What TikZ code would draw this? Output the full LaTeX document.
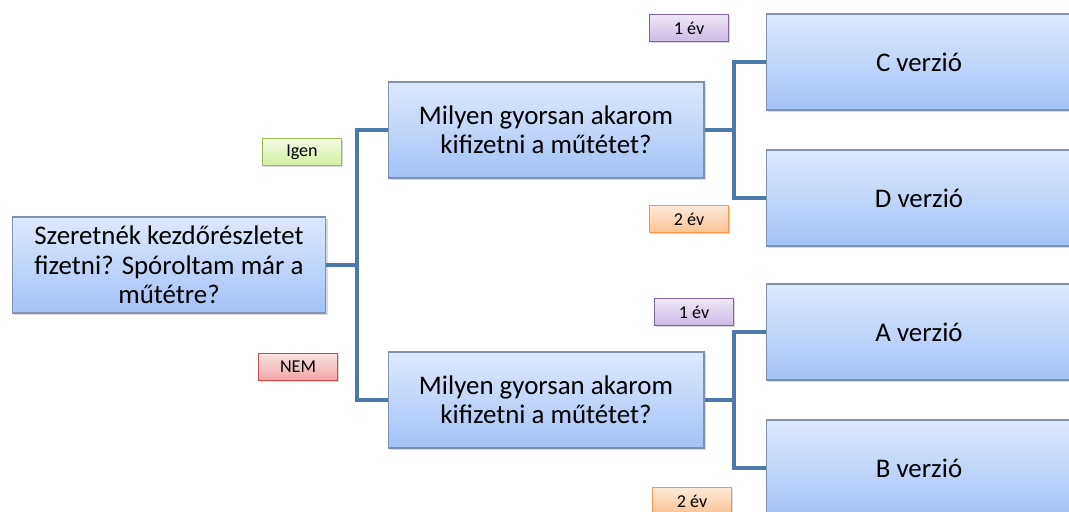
\documentclass[tikz,border=0pt]{standalone}
\usepackage{fontspec}
\setmainfont{Carlito}
\usetikzlibrary{shadows}
\definecolor{boxtop}{RGB}{222,233,253}
\definecolor{boxbot}{RGB}{163,194,248}
\definecolor{boxline}{RGB}{128,145,172}
\definecolor{wirec}{RGB}{76,120,170}
\definecolor{grline}{RGB}{150,185,85}
\definecolor{grtop}{RGB}{243,251,226}
\definecolor{grbot}{RGB}{211,238,160}
\definecolor{rdline}{RGB}{192,80,77}
\definecolor{rdtop}{RGB}{251,226,226}
\definecolor{rdbot}{RGB}{242,165,165}
\definecolor{puline}{RGB}{128,100,162}
\definecolor{putop}{RGB}{240,233,247}
\definecolor{pubot}{RGB}{204,185,227}
\definecolor{orline}{RGB}{247,150,70}
\definecolor{ortop}{RGB}{253,233,217}
\definecolor{orbot}{RGB}{251,195,147}
\begin{document}
\begin{tikzpicture}[x=0.02cm, y=-0.02cm,
  qbox/.style={draw=boxline, line width=0.6pt, top color=boxtop, bottom color=boxbot,
    minimum height=1.92cm, inner sep=0pt, align=center, text=black,
    font=\fontsize{15.3}{16.8}\selectfont,
    drop shadow={shadow xshift=1.2pt, shadow yshift=-1.2pt, opacity=0.3}},
  tag/.style={line width=0.6pt, minimum width=1.58cm, minimum height=0.54cm, inner sep=0pt,
    text=black, font=\fontsize{10.3}{12}\selectfont,
    drop shadow={shadow xshift=0.8pt, shadow yshift=-0.8pt, opacity=0.3}},
  yestag/.style={tag, draw=grline, top color=grtop, bottom color=grbot},
  notag/.style={tag, draw=rdline, top color=rdtop, bottom color=rdbot},
  onetag/.style={tag, draw=puline, top color=putop, bottom color=pubot},
  twotag/.style={tag, draw=orline, top color=ortop, bottom color=orbot},
  wire/.style={draw=wirec, line width=2.1pt}]
  \useasboundingbox (0,0) rectangle (1069,511);

  \node[qbox, minimum width=6.28cm] (root) at (169,265) {Szeretnék kezdőrészletet\\fizetni? Spóroltam már a\\műtétre?};
  \node[qbox, minimum width=6.32cm] (q1) at (546,130) {Milyen gyorsan akarom\\kifizetni a műtétet?};
  \node[qbox, minimum width=6.32cm] (q2) at (546,400) {Milyen gyorsan akarom\\kifizetni a műtétet?};

  \node[qbox, minimum width=6.12cm] (verc) at (919,62) {C verzió};
  \node[qbox, minimum width=6.12cm] (verd) at (919,198) {D verzió};
  \node[qbox, minimum width=6.12cm] (vera) at (919,332) {A verzió};
  \node[qbox, minimum width=6.12cm] (verb) at (919,468) {B verzió};

  \node[yestag] (igen) at (302,152) {Igen};
  \node[notag] (nem) at (298,367) {NEM};
  \node[onetag] (ev1a) at (689,28) {1 év};
  \node[twotag] (ev2a) at (689,219) {2 év};
  \node[onetag] (ev1b) at (694,312) {1 év};
  \node[twotag] (ev2b) at (692,501) {2 év};

  \coordinate (j0) at (357,265);
  \coordinate (j1) at (734,130);
  \coordinate (j2) at (734,400);
  \draw[wire] (root.east) -- (j0) |- (q1.west);
  \draw[wire] (j0) |- (q2.west);
  \draw[wire] (q1.east) -- (j1) |- (verc.west);
  \draw[wire] (j1) |- (verd.west);
  \draw[wire] (q2.east) -- (j2) |- (vera.west);
  \draw[wire] (j2) |- (verb.west);
\end{tikzpicture}
\end{document}
